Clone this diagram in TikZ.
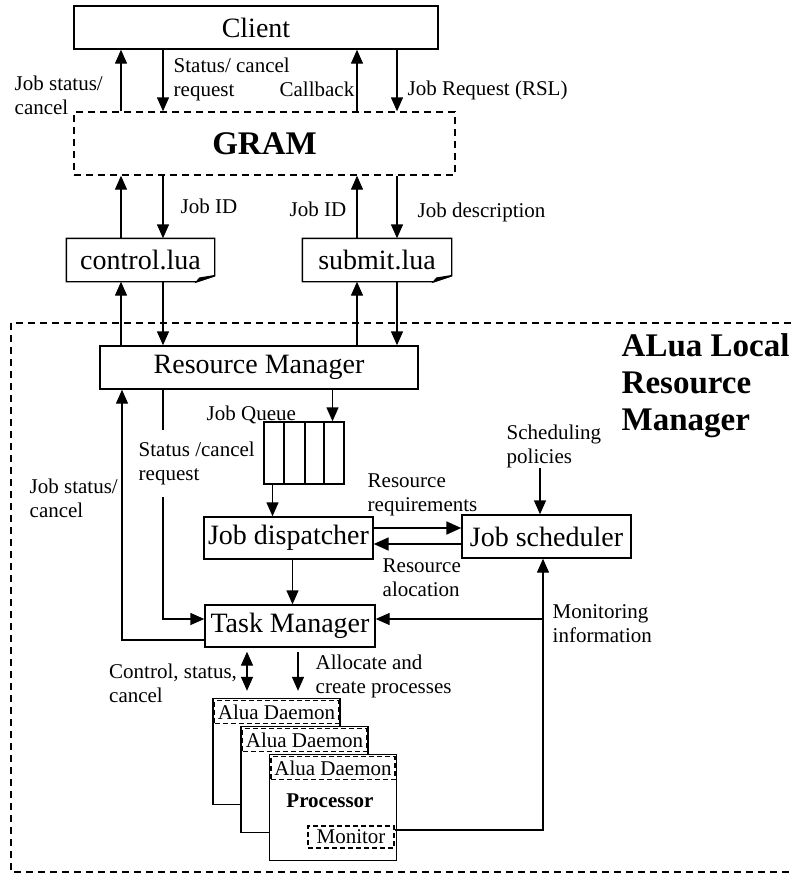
\documentclass[tikz,border=0pt]{standalone}
\usepackage{fontspec}
\setmainfont{Liberation Serif}
\usetikzlibrary{arrows.meta,positioning}

% file box with a folded corner
\newcommand{\docfold}[1]{%
  \draw (#1.north west) -- (#1.north east) -- ([yshift=3pt]#1.south east)
    -- ([xshift=-9pt]#1.south east) -- (#1.south west) -- cycle;
  \filldraw ([xshift=-9pt]#1.south east) -- ([xshift=-7.5pt,yshift=1.8pt]#1.south east)
    -- ([yshift=3pt]#1.south east) -- cycle;
}

\begin{document}
\begin{tikzpicture}[%
>={Triangle[length=7pt,width=6pt]},
x=0.5pt, y=-0.5pt,
line width=0.7pt,
box/.style={draw, inner sep=0pt, font=\fontsize{14}{16}\selectfont},
dashbox/.style={dash pattern=on 3.5pt off 2.5pt},
daemon/.style={draw, dash pattern=on 2.5pt off 1.5pt, inner sep=0pt,
  minimum width=62pt, minimum height=11.5pt, font=\fontsize{10.5}{12}\selectfont},
proc/.style={draw, fill=white, inner sep=0pt, minimum width=63.5pt, minimum height=53pt},
lbl/.style={align=left, inner sep=0pt, anchor=north west, font=\fontsize{10.5}{12}\selectfont},
fat/.style={->, line width=0.9pt, >={Triangle[length=7.5pt,width=6.5pt]}}
]
\useasboundingbox (0,0) rectangle (791,873);

% outer region
\draw[dashbox] (11,323) rectangle (800,872);

\node[box, minimum width=182pt, minimum height=21.5pt] (client) at (256,27.5) {Client};
\node[box, dashbox, minimum width=190.5pt, minimum height=31.5pt,
  font=\bfseries\fontsize{16.5}{18}\selectfont] (gram) at (264.5,143.5) {GRAM};
\node[box, draw=none, minimum width=73.5pt, minimum height=21pt] (control) at (140.5,260) {control.lua};
\node[box, draw=none, minimum width=74pt, minimum height=21pt] (submit) at (377,260) {submit.lua};
\docfold{control}
\docfold{submit}
\node[box, minimum width=159pt, minimum height=21.5pt] (rm) at (259,367.5) {Resource Manager};
\node[draw, inner sep=0pt, minimum width=40pt, minimum height=31pt] (queue) at (304,453) {};
\node[box, minimum width=84.5pt, minimum height=21pt] (disp) at (288.5,538) {Job dispatcher};
\node[box, minimum width=84.5pt, minimum height=21.5pt] (sched) at (546.5,536.5) {Job scheduler};
\node[box, minimum width=85pt, minimum height=21pt] (tm) at (290,626) {Task Manager};

\node[proc] (proc1) at (276.5,751.5) {};
\node[daemon, below=1pt of proc1.north] (daemon1) {Alua Daemon};
\node[proc] (proc2) at (304.5,779.5) {};
\node[daemon, below=1pt of proc2.north] (daemon2) {Alua Daemon};
\node[proc] (proc3) at (333,807.5) {};
\node[daemon, below=1pt of proc3.north] (daemon3) {Alua Daemon};
\node[font=\bfseries\fontsize{10.5}{12}\selectfont] (cpu) at (330,801) {Processor};
\node[daemon, minimum width=43pt, minimum height=11pt] (monitor) at (351,837) {Monitor};

\node[lbl, font=\bfseries\fontsize{16.5}{18.5}\selectfont] (alrm) at (621,333) {ALua Local\\Resource\\Manager};

% queue cells
\draw (284,0 |- queue.north) -- (284,0 |- queue.south);
\draw (305,0 |- queue.north) -- (305,0 |- queue.south);
\draw (324,0 |- queue.north) -- (324,0 |- queue.south);

% client <-> gram
\draw[->] (121,0 |- gram.north) -- (121,0 |- client.south);
\draw[->] (163,0 |- client.south) -- (163,0 |- gram.north);
\draw[->] (357,0 |- gram.north) -- (357,0 |- client.south);
\draw[->] (397,0 |- client.south) -- (397,0 |- gram.north);
\node[lbl] (jobstat1) at (14,75) {Job status/\\cancel};
\node[lbl] (statreq1) at (173,57) {Status/ cancel\\request};
\node[lbl, anchor=north east] (callback) at (355,81) {Callback};
\node[lbl] (jobreq) at (407,80) {Job Request (RSL)};

% gram <-> lua files
\draw[->] (121,0 |- control.north) -- (121,0 |- gram.south);
\draw[->] (163,0 |- gram.south) -- (163,0 |- control.north);
\draw[->] (357,0 |- submit.north) -- (357,0 |- gram.south);
\draw[->] (397,0 |- gram.south) -- (397,0 |- submit.north);
\node[lbl] (jobid1) at (180,198) {Job ID};
\node[lbl, anchor=north east] (jobid2) at (347,201) {Job ID};
\node[lbl] (jobdesc) at (417,202) {Job description};

% lua files <-> resource manager
\draw[->] (121,0 |- rm.north) -- (121,0 |- control.south);
\draw[->] (163,0 |- control.south) -- (163,0 |- rm.north);
\draw[->] (357,0 |- rm.north) -- (357,0 |- submit.south);
\draw[->] (397,0 |- submit.south) -- (397,0 |- rm.north);

% inside the local manager
\draw[->] (332.5,0 |- rm.south) -- (332.5,0 |- queue.north);
\node[lbl] (jobqueue) at (206,405) {Job Queue};
\draw[->] (272.5,0 |- queue.south) -- (272.5,0 |- disp.north);
\draw[fat] (disp.east |- 0,528) -- (sched.west |- 0,528);
\draw[fat] (sched.west |- 0,544) -- (disp.east |- 0,544);
\node[lbl] (resreq) at (367,473) {Resource\\requirements};
\node[lbl] (resaloc) at (382,558) {Resource\\alocation};
\node[lbl] (schedpol) at (506,424) {Scheduling\\policies};
\draw[->] (540,0 |- schedpol.south) -- (540,0 |- sched.north);
\draw[->] (292.5,0 |- disp.south) -- (292.5,0 |- tm.north);

\draw[->] (163,0 |- rm.south) |- (tm.west |- 0,619);
\node[lbl, fill=white, inner ysep=6pt, inner xsep=1pt] (statreq2) at (136,429) {Status /cancel\\request};
\draw[->] (tm.west |- 0,640) -| (122,0 |- rm.south);
\node[lbl] (jobstat2) at (29,478) {Job status/\\cancel};

\coordinate (mon) at (543,619);
\draw[->] (monitor.east |- 0,830) -| (mon) -- (543,0 |- sched.south);
\draw[->] (mon) -- (mon -| tm.east);
\node[lbl] (moninfo) at (552,604) {Monitoring\\information};

\draw[<->, shorten <=2pt, shorten >=3.5pt] (247,0 |- tm.south) -- (247,0 |- proc1.north);
\draw[->, shorten <=2pt, shorten >=3.5pt] (298,0 |- tm.south) -- (298,0 |- proc1.north);
\node[lbl] (ctrlstat) at (108.5,663) {Control, status,\\cancel};
\node[lbl] (alloc) at (315,654) {Allocate and\\create processes};
\end{tikzpicture}
\end{document}
